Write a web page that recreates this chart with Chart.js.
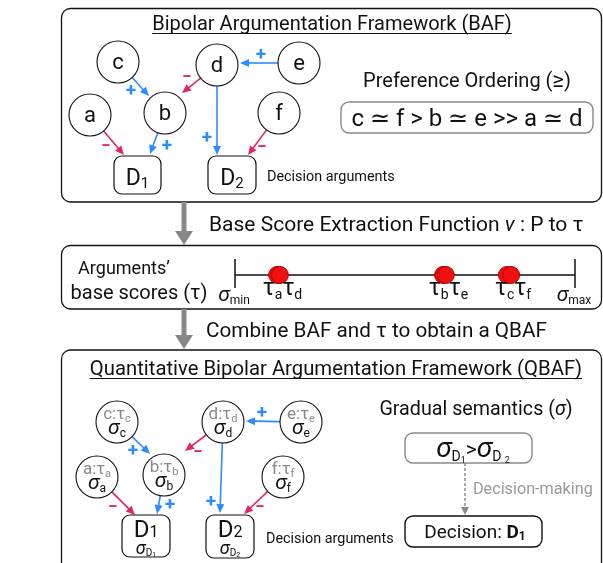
<!DOCTYPE html>
<html><head><meta charset="utf-8">
<script src="https://cdn.jsdelivr.net/npm/chart.js@4"></script>
<style>html,body{margin:0;padding:0;background:#fff}canvas{display:block}</style>
</head><body>
<canvas id="c" width="603" height="563"></canvas>
<script>
// ---------------- data ----------------
const argumentNames = ['a','b','c','d','e','f'];
const baseScores    = [0.124, 0.612, 0.800, 0.132, 0.620, 0.812]; // tau_a .. tau_f on [sigma_min, sigma_max]
const supportEdges  = [['c','b'],['e','d'],['b','D1'],['d','D2']];
const attackEdges   = [['d','b'],['a','D1'],['f','D2']];
const decisionArgs  = ['D1','D2'];
const preferenceOrder = 'c ≃ f > b ≃ e >> a ≃ d';
const scoreBounds   = ['min','max'];
const decision      = 'D1';

// ---------------- layout (positions / styles only) ----------------
const FONT = 'Roboto, "Noto Sans", sans-serif';
const BLUE = '#2B8CFF', RED = '#E0256A', GREY = '#8a8a8a';
const NODE_R = 21;
const layout = {
  top: {
    nodes: {a:[90,115], b:[165,113], c:[118,62], d:[217,65], e:[299,63], f:[279,113]},
    boxes: {D1:[114,156,161,194], D2:[208,156,256,194]},
    tips:  {'c-b':[149,96], 'd-b':[182,93], 'e-d':[240,63], 'a-D1':[124,155], 'b-D1':[150,154], 'd-D2':[217,155], 'f-D2':[248,155]},
    signs: {'c-b':[131,91], 'd-b':[187,78], 'e-d':[261,55], 'a-D1':[106,147], 'b-D1':[167,146], 'd-D2':[207,138], 'f-D2':[262,148]},
  },
  bot: {
    nodes: {a:[97,477], b:[164,475], c:[117,422], d:[223,422], e:[301,422], f:[283,477]},
    boxes: {D1:[122,515,170,557], D2:[206,515,254,558]},
    tips:  {'c-b':[150,454], 'd-b':[185,451], 'e-d':[246,421], 'a-D1':[135,515], 'b-D1':[157,514], 'd-D2':[220,513], 'f-D2':[244,514]},
    signs: {'c-b':[133,451], 'd-b':[198,453], 'e-d':[262,413], 'a-D1':[113,508], 'b-D1':[170,505], 'd-D2':[211,502], 'f-D2':[260,508]},
  },
  axisY: 275, axisPx: [235, 575]
};
// base-score scale: choose min/max so that 0 -> axisPx[0], 1 -> axisPx[1] on a 603px wide area
const span = 603 / (layout.axisPx[1] - layout.axisPx[0]);
const xsMin = -layout.axisPx[0] / (layout.axisPx[1] - layout.axisPx[0]);
const xsMax = xsMin + span;

function f(size, style){ return (style ? style + ' ' : '') + size + 'px ' + FONT; }

function rich(ctx, segs, x, y, align){
  let w = 0; const ws = [];
  for (const g of segs){ ctx.font = f(g.s, g.st); const m = ctx.measureText(g.t).width + (g.gap||0); ws.push(m); w += m; }
  let cx = align === 'center' ? x - w/2 : (align === 'right' ? x - w : x);
  ctx.textAlign = 'left'; ctx.textBaseline = 'alphabetic';
  segs.forEach((g,i) => { ctx.font = f(g.s, g.st); ctx.fillStyle = g.c || '#111'; ctx.fillText(g.t, cx + (g.off||0), y + (g.dy||0)); cx += ws[i]; });
  return [x - (align==='center'? w/2 : 0), w];
}
function rrect(ctx, x1, y1, x2, y2, r, color, lw){
  ctx.beginPath(); ctx.roundRect(x1, y1, x2-x1, y2-y1, r);
  ctx.fillStyle = '#fff'; ctx.fill();
  ctx.strokeStyle = color; ctx.lineWidth = lw; ctx.stroke();
}
function arrow(ctx, x1, y1, x2, y2, color, lw, hl, hw, dash){
  const dx = x2-x1, dy = y2-y1, L = Math.hypot(dx,dy), ux = dx/L, uy = dy/L;
  ctx.save();
  ctx.strokeStyle = color; ctx.fillStyle = color; ctx.lineWidth = lw;
  if (dash) ctx.setLineDash(dash);
  ctx.beginPath(); ctx.moveTo(x1,y1); ctx.lineTo(x2-ux*hl*0.8, y2-uy*hl*0.8); ctx.stroke();
  ctx.setLineDash([]);
  ctx.beginPath(); ctx.moveTo(x2,y2);
  ctx.lineTo(x2-ux*hl - uy*hw/2, y2-uy*hl + ux*hw/2);
  ctx.lineTo(x2-ux*hl + uy*hw/2, y2-uy*hl - ux*hw/2);
  ctx.closePath(); ctx.fill();
  ctx.restore();
}

const diagram = {
  id: 'diagram',
  beforeDatasetsDraw(chart){
    const ctx = chart.ctx, X = chart.scales.x, Y = chart.scales.y, XS = chart.scales.xs;
    const px = v => X.getPixelForValue(v), py = v => Y.getPixelForValue(v);
    ctx.save();
    // panels
    rrect(ctx, px(61.5), py(8.5), px(601.5), py(202), 9, '#111', 1.3);
    rrect(ctx, px(61.5), py(245.5), px(601.5), py(309), 9, '#111', 1.3);
    rrect(ctx, px(61.5), py(350), px(601.5), py(580), 9, '#111', 1.3);
    // grey connectors between panels
    ctx.fillStyle = '#888';
    for (const [a,b] of [[202,246],[309,350]]){
      ctx.fillRect(px(181.5), py(a), 5, py(b-14)-py(a));
      ctx.beginPath(); ctx.moveTo(px(175), py(b-15)); ctx.lineTo(px(193), py(b-15)); ctx.lineTo(px(184), py(b-1)); ctx.closePath(); ctx.fill();
    }
    // edges, both panels
    for (const pk of ['top','bot']){
      const P = layout[pk];
      const all = supportEdges.map(e => [e, BLUE, '+']).concat(attackEdges.map(e => [e, RED, '−']));
      for (const [[s,t], col, sign] of all){
        const key = s + '-' + t, tip = P.tips[key], c = P.nodes[s];
        const dx = tip[0]-c[0], dy = tip[1]-c[1], L = Math.hypot(dx,dy);
        const sx = c[0] + dx/L*NODE_R, sy = c[1] + dy/L*NODE_R;
        arrow(ctx, px(sx), py(sy), px(tip[0]), py(tip[1]), col, 1.6, 9, 8);
        const sp = P.signs[key];
        ctx.font = f(sign === '+' ? 19 : 17, '700'); ctx.fillStyle = col; ctx.textAlign = 'center'; ctx.textBaseline = 'middle';
        ctx.fillText(sign, px(sp[0]), py(sp[1]));
      }
      // decision argument boxes
      for (const d of decisionArgs){
        const b = P.boxes[d];
        rrect(ctx, px(b[0]), py(b[1]), px(b[2]), py(b[3]), 8, '#111', 1.2);
      }
    }
    // base score axis
    ctx.strokeStyle = '#111'; ctx.lineWidth = 1.5;
    ctx.beginPath();
    ctx.moveTo(XS.getPixelForValue(0), py(layout.axisY)); ctx.lineTo(XS.getPixelForValue(1), py(layout.axisY));
    for (const v of [0,1]){ ctx.moveTo(XS.getPixelForValue(v), py(259)); ctx.lineTo(XS.getPixelForValue(v), py(288)); }
    ctx.stroke();
    // preference and sigma boxes
    rrect(ctx, px(341), py(102), px(593), py(133), 8, '#8a8a8a', 1.4);
    rrect(ctx, px(405), py(433), px(532), py(463), 8, '#8a8a8a', 1.4);
    rrect(ctx, px(405), py(516), px(542), py(547), 8, '#111', 1.4);
    arrow(ctx, px(465), py(463), px(465), py(515), '#888', 1.4, 8, 8, [3,2]);
    ctx.restore();
  },
  afterDatasetsDraw(chart){
    const ctx = chart.ctx, X = chart.scales.x, Y = chart.scales.y, XS = chart.scales.xs;
    const px = v => X.getPixelForValue(v), py = v => Y.getPixelForValue(v);
    ctx.save();
    // titles with underline
    const titles = [['Bipolar Argumentation Framework (BAF)', 332, 30, 20], ['Quantitative Bipolar Argumentation Framework (QBAF)', 336, 375, 20.3]];
    for (const [t, x, y, s] of titles){
      const [x0, w] = rich(ctx, [{t, s}], px(x), py(y), 'center');
      ctx.strokeStyle = '#111'; ctx.lineWidth = 1; ctx.beginPath(); ctx.moveTo(x0, py(y)+3.5); ctx.lineTo(x0+w, py(y)+3.5); ctx.stroke();
    }
    // top panel nodes
    const T = layout.top;
    for (const n of argumentNames){
      const [x, y] = T.nodes[n];
      rich(ctx, [{t:n, s:22}, ], px(x), py(y+7), 'center');
    }
    for (const d of decisionArgs){
      const b = T.boxes[d];
      rich(ctx, [{t:d[0], s:23}, {t:d.slice(1), s:15, dy:3}], px((b[0]+b[2])/2), py(185), 'center');
    }
    rich(ctx, [{t:'Decision arguments', s:14.4}], px(267), py(181), 'left');
    rich(ctx, [{t:'Preference Ordering (', s:20}, {t:'≥', s:22}, {t:')', s:20}], px(467), py(87), 'center');
    rich(ctx, [{t:preferenceOrder, s:24}], px(467), py(126), 'center');
    // connector labels
    rich(ctx, [{t:'Base Score Extraction Function ', s:21}, {t:'ν', s:21, st:'italic'}, {t:' : P to τ', s:21}], px(209), py(231), 'left');
    rich(ctx, [{t:'Combine BAF and τ to obtain a QBAF', s:20.7}], px(206), py(337), 'left');
    // middle panel
    rich(ctx, [{t:'Arguments’', s:18}], px(124), py(274), 'center');
    rich(ctx, [{t:'base scores (τ)', s:20}], px(139), py(299), 'center');
    scoreBounds.forEach((b, i) => {
      rich(ctx, [{t:'σ', s:21, st:'italic'}, {t:b, s:12, dy:3}], XS.getPixelForValue(i) - 1, py(301), 'center');
    });
    // base-score labels, grouped where dots overlap
    const order = argumentNames.map((n,i)=>[n, baseScores[i]]).sort((p,q)=>p[1]-q[1]);
    const groups = [];
    for (const p of order){
      const g = groups[groups.length-1];
      if (g && p[1] - g[g.length-1][1] < 0.05) g.push(p); else groups.push([p]);
    }
    for (const g of groups){
      const mean = g.reduce((s,p)=>s+p[1],0)/g.length;
      const segs = [];
      g.forEach(p => { segs.push({t:'τ', s:23}); segs.push({t:p[0], s:14, dy:4}); });
      rich(ctx, segs, XS.getPixelForValue(mean) + 4, py(295), 'center');
    }
    // bottom panel nodes
    const B = layout.bot;
    for (const n of argumentNames){
      const [x, y] = B.nodes[n];
      rich(ctx, [{t:n + ':τ', s:17, c:GREY}, {t:n, s:11, dy:3, c:GREY}], px(x), py(y-3), 'center');
      rich(ctx, [{t:'σ', s:21, st:'italic'}, {t:n, s:12, dy:3}], px(x), py(y+12), 'center');
    }
    for (const d of decisionArgs){
      const b = B.boxes[d];
      const cx = (b[0]+b[2])/2;
      rich(ctx, [{t:d[0], s:24}, {t:d.slice(1), s:16, dy:0}], px(cx), py(537), 'center');
      rich(ctx, [{t:'σ', s:18, st:'italic'}, {t:d[0], s:10, dy:2}, {t:d.slice(1), s:7, dy:3}], px(cx), py(554), 'center');
    }
    rich(ctx, [{t:'Decision arguments', s:14.4}], px(266), py(543), 'left');
    rich(ctx, [{t:'Gradual semantics (', s:19.7}, {t:'σ', s:19.7, st:'italic'}, {t:')', s:19.7}], px(476), py(415), 'center');
    rich(ctx, [{t:'σ', s:28, st:'italic'}, {t:'D', s:14, dy:4}, {t:'1', s:9, dy:6}, {t:'>', s:21, dy:-1}, {t:'σ', s:28, st:'italic'}, {t:'D ', s:14, dy:4}, {t:'2', s:9, dy:6}], px(473), py(457), 'center');
    rich(ctx, [{t:'Decision-making', s:16.2, c:'#999'}], px(473), py(494), 'left');
    rich(ctx, [{t:'Decision: ', s:19}, {t:decision[0], s:19, st:'bold'}, {t:decision.slice(1), s:12, st:'bold', dy:2}], px(475), py(538), 'center');
    ctx.restore();
  }
};

const nodePoints = [];
for (const pk of ['top','bot']) for (const n of argumentNames) nodePoints.push({x: layout[pk].nodes[n][0], y: layout[pk].nodes[n][1]});

new Chart(document.getElementById('c'), {
  type: 'scatter',
  data: { datasets: [
    { label: 'base scores', xAxisID: 'xs', yAxisID: 'y',
      data: baseScores.map(v => ({x: v, y: layout.axisY})),
      pointRadius: 8.5, backgroundColor: '#F01010', borderColor: '#B00000', borderWidth: 1, clip: false },
    { label: 'arguments', xAxisID: 'x', yAxisID: 'y', data: nodePoints,
      pointRadius: NODE_R, backgroundColor: '#fff', borderColor: '#111', borderWidth: 1.1, clip: false }
  ]},
  options: {
    responsive: false, animation: false, devicePixelRatio: 1, events: [],
    layout: { padding: 0, autoPadding: false },
    plugins: { legend: {display:false}, tooltip: {enabled:false}, title: {display:false} },
    scales: {
      x:  { type: 'linear', min: 0, max: 603, display: false },
      xs: { type: 'linear', min: xsMin, max: xsMax, display: false },
      y:  { type: 'linear', min: 0, max: 563, reverse: true, display: false }
    }
  },
  plugins: [diagram]
});
</script>
</body></html>
